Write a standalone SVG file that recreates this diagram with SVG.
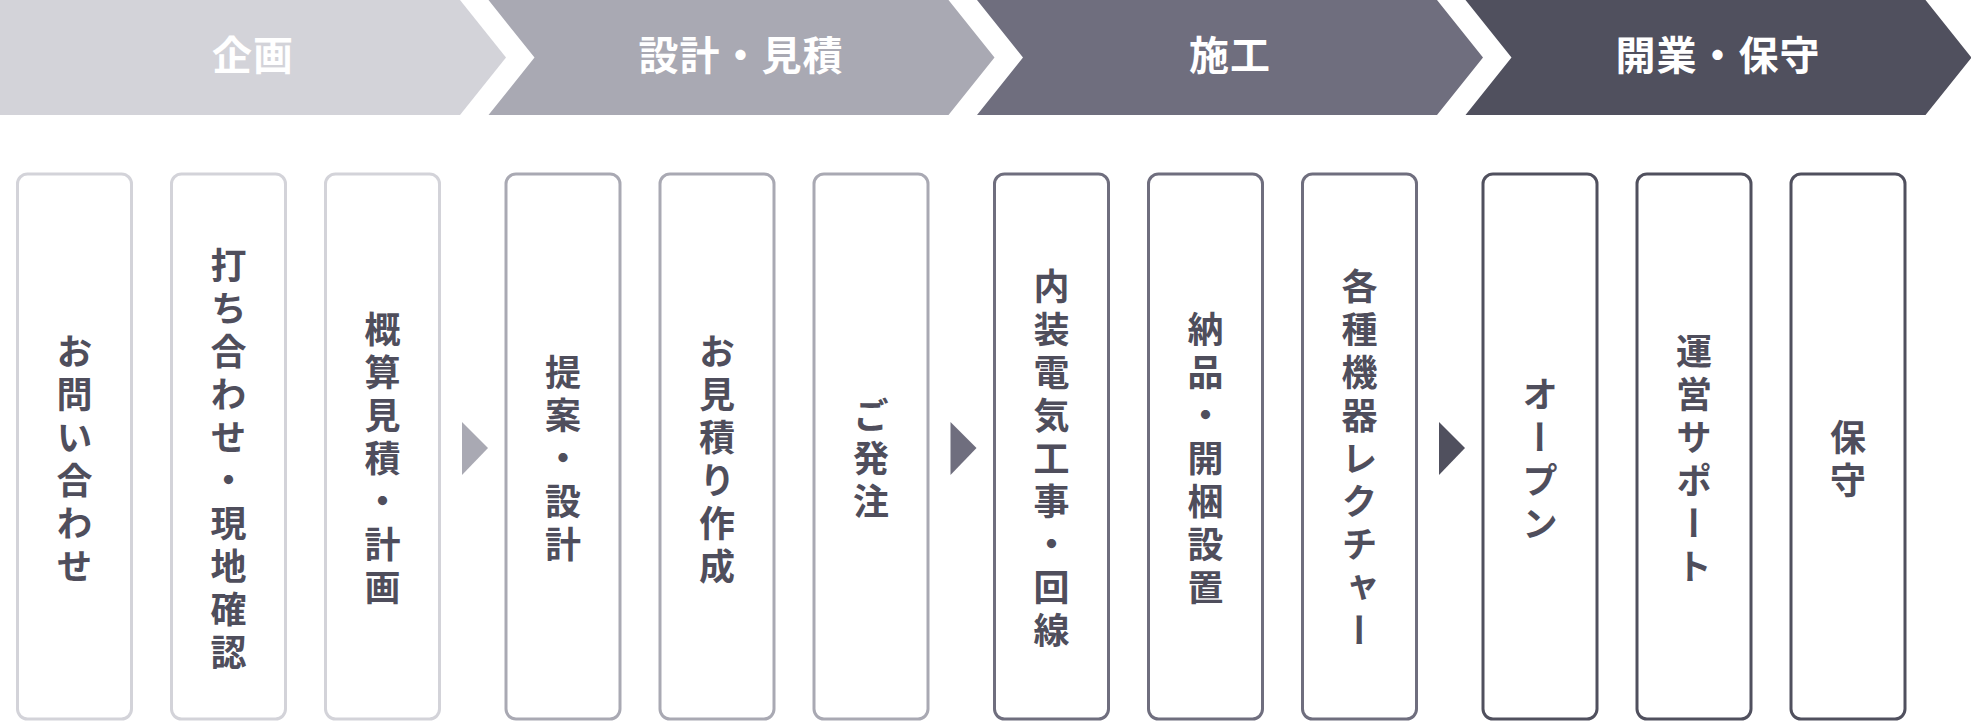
<svg xmlns="http://www.w3.org/2000/svg" width="1971" height="723" viewBox="0 0 1971 723">
<style>
.title{font-family:"Noto Sans CJK JP","Noto Sans",sans-serif;font-weight:700;font-size:40px;fill:#ffffff;text-anchor:middle;dominant-baseline:central;letter-spacing:1px}
.lbl{font-family:"Noto Sans CJK JP","Noto Sans",sans-serif;font-weight:700;font-size:36px;fill:#4f4e5c;text-anchor:middle;writing-mode:vertical-rl;text-orientation:upright;letter-spacing:7px}
.box{fill:#ffffff;stroke-width:3}
.g1{stroke:#d3d3d9}.g2{stroke:#a9a9b3}.g3{stroke:#6f6e7e}.g4{stroke:#50505e}
</style>
<rect width="1971" height="723" fill="#ffffff"/>
<g id="phases">
<g id="phase1"><polygon points="0,0 460,0 506,57.5 460,115 0,115" fill="#d3d3d9"/><text class="title" x="253" y="53">企画</text></g>
<g id="phase2"><polygon points="488.5,0 948.5,0 994.5,57.5 948.5,115 488.5,115 534.5,57.5" fill="#a9a9b3"/><text class="title" x="741" y="53">設計・見積</text></g>
<g id="phase3"><polygon points="977,0 1437,0 1483,57.5 1437,115 977,115 1023,57.5" fill="#6f6e7e"/><text class="title" x="1230" y="53">施工</text></g>
<g id="phase4"><polygon points="1465.5,0 1925.5,0 1971.5,57.5 1925.5,115 1465.5,115 1511.5,57.5" fill="#50505e"/><text class="title" x="1718" y="53">開業・保守</text></g>
</g>
<g id="connectors">
<polygon points="462,422 488,448 462,475" fill="#a9a9b3"/>
<polygon points="950.5,422 976.5,448 950.5,475" fill="#6f6e7e"/>
<polygon points="1439,422 1465,448 1439,475" fill="#50505e"/>
</g>
<g id="n1"><rect class="box g1" x="17.5" y="174" width="114" height="545" rx="10"/><text class="lbl" x="74.5" y="462">お問い合わせ</text></g>
<g id="n2"><rect class="box g1" x="171.5" y="174" width="114" height="545" rx="10"/><text class="lbl" x="228.5" y="462">打ち合わせ・現地確認</text></g>
<g id="n3"><rect class="box g1" x="325.5" y="174" width="114" height="545" rx="10"/><text class="lbl" x="382.5" y="462">概算見積・計画</text></g>
<g id="n4"><rect class="box g2" x="506" y="174" width="114" height="545" rx="10"/><text class="lbl" x="563" y="462">提案・設計</text></g>
<g id="n5"><rect class="box g2" x="660" y="174" width="114" height="545" rx="10"/><text class="lbl" x="717" y="462">お見積り作成</text></g>
<g id="n6"><rect class="box g2" x="814" y="174" width="114" height="545" rx="10"/><text class="lbl" x="871" y="462">ご発注</text></g>
<g id="n7"><rect class="box g3" x="994.5" y="174" width="114" height="545" rx="10"/><text class="lbl" x="1051.5" y="462">内装電気工事・回線</text></g>
<g id="n8"><rect class="box g3" x="1148.5" y="174" width="114" height="545" rx="10"/><text class="lbl" x="1205.5" y="462">納品・開梱設置</text></g>
<g id="n9"><rect class="box g3" x="1302.5" y="174" width="114" height="545" rx="10"/><text class="lbl" x="1359.5" y="462">各種機器レクチャー</text></g>
<g id="n10"><rect class="box g4" x="1483" y="174" width="114" height="545" rx="10"/><text class="lbl" x="1540" y="462">オープン</text></g>
<g id="n11"><rect class="box g4" x="1637" y="174" width="114" height="545" rx="10"/><text class="lbl" x="1694" y="462">運営サポート</text></g>
<g id="n12"><rect class="box g4" x="1791" y="174" width="114" height="545" rx="10"/><text class="lbl" x="1848" y="462">保守</text></g>
</svg>
